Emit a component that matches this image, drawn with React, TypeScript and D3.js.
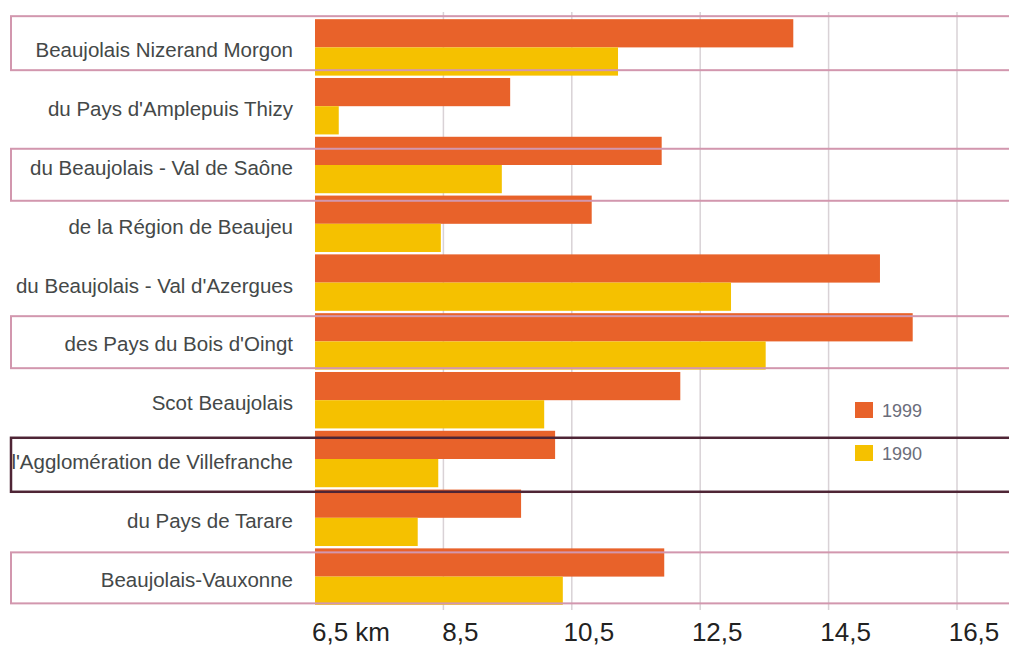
import React from "react";
import * as d3 from "d3";

const categories = [
  "Beaujolais Nizerand Morgon",
  "du Pays d'Amplepuis Thizy",
  "du Beaujolais - Val de Saône",
  "de la Région de Beaujeu",
  "du Beaujolais - Val d'Azergues",
  "des Pays du Bois d'Oingt",
  "Scot Beaujolais",
  "l'Agglomération de Villefranche",
  "du Pays de Tarare",
  "Beaujolais-Vauxonne",
];

const values1999 = [13.95, 9.54, 11.9, 10.81, 15.3, 15.81, 12.19, 10.24, 9.71, 11.94];
const values1990 = [11.22, 6.87, 9.41, 8.46, 12.98, 13.52, 10.07, 8.42, 8.1, 10.36];

const seriesNames = ["1999", "1990"];
const tickValues = [6.5, 8.5, 10.5, 12.5, 14.5, 16.5];
const tickLabels = ["6,5 km", "8,5", "10,5", "12,5", "14,5", "16,5"];

const highlighted = [
  "Beaujolais Nizerand Morgon",
  "du Beaujolais - Val de Saône",
  "des Pays du Bois d'Oingt",
  "l'Agglomération de Villefranche",
  "Beaujolais-Vauxonne",
];
const emphasized = "l'Agglomération de Villefranche";

const W = 1009;
const H = 648;
const ORANGE = "#e8622a";
const YELLOW = "#f5c100";

// decorative nudges of the hand-drawn frames (px, top offset and height)
const BOX_STYLE: Record<string, [number, number]> = {
  "Beaujolais Nizerand Morgon": [-3, 54],
  "du Beaujolais - Val de Saône": [12, 52],
  "des Pays du Bois d'Oingt": [3, 52],
  "l'Agglomération de Villefranche": [7, 54],
  "Beaujolais-Vauxonne": [4, 51],
};

export default function App() {
  const x = d3.scaleLinear().domain([6.5, 16.5]).range([315, 957]);
  const y = d3
    .scaleBand<string>()
    .domain(categories)
    .range([18, 606])
    .paddingInner(0.04)
    .paddingOuter(0.02);
  const sub = d3.scaleBand<string>().domain(seriesNames).range([0, y.bandwidth()]);
  const colors = [ORANGE, YELLOW];
  const series = [values1999, values1990];

  return (
    <svg
      width={W}
      height={H}
      style={{ position: "absolute", left: 0, top: 0, background: "#fff" }}
      fontFamily="'Liberation Sans', Arial, sans-serif"
    >
      <rect x={0} y={0} width={W} height={H} fill="#fff" />
      {/* gridlines */}
      {tickValues.slice(1).map((t) => (
        <line
          key={"g" + t}
          x1={x(t)}
          x2={x(t)}
          y1={12}
          y2={610}
          stroke="#d9d2d6"
          strokeWidth={1.5}
        />
      ))}
      {/* bars */}
      {categories.map((c, i) => (
        <g key={c}>
          {series.map((vals, s) => (
            <rect
              key={s}
              x={x(6.5)}
              y={(y(c) as number) + (sub(seriesNames[s]) as number)}
              width={x(vals[i]) - x(6.5)}
              height={sub.bandwidth()}
              fill={colors[s]}
            />
          ))}
        </g>
      ))}
      {/* highlight frames */}
      {highlighted.map((c) => {
        const [dy, h] = BOX_STYLE[c] || [0, 54];
        const top = (y(c) as number) + dy;
        const dark = c === emphasized;
        return (
          <rect
            key={"b" + c}
            x={11}
            y={top}
            width={W + 20}
            height={h}
            fill="none"
            stroke={dark ? "#4e2535" : "#d297ae"}
            strokeWidth={dark ? 2.5 : 2}
          />
        );
      })}
      {/* category labels */}
      {categories.map((c) => (
        <text
          key={"l" + c}
          x={293}
          y={(y(c) as number) + y.bandwidth() / 2 + 10}
          textAnchor="end"
          fontSize={20.5}
          fill="#444848"
        >
          {c}
        </text>
      ))}
      {/* axis labels */}
      {tickValues.map((t, i) => (
        <text
          key={"t" + t}
          x={i === 0 ? x(t) - 3 : x(t) + 17}
          y={641}
          textAnchor={i === 0 ? "start" : "middle"}
          fontSize={26}
          fill="#222"
        >
          {tickLabels[i]}
        </text>
      ))}
      {/* legend */}
      {seriesNames.map((s, i) => (
        <g key={"lg" + s} transform={`translate(855, ${402 + i * 43})`}>
          <rect x={0} y={0} width={18} height={16} fill={colors[i]} />
          <text x={27} y={15} fontSize={18} fill="#6b6d7a">
            {s}
          </text>
        </g>
      ))}
    </svg>
  );
}
